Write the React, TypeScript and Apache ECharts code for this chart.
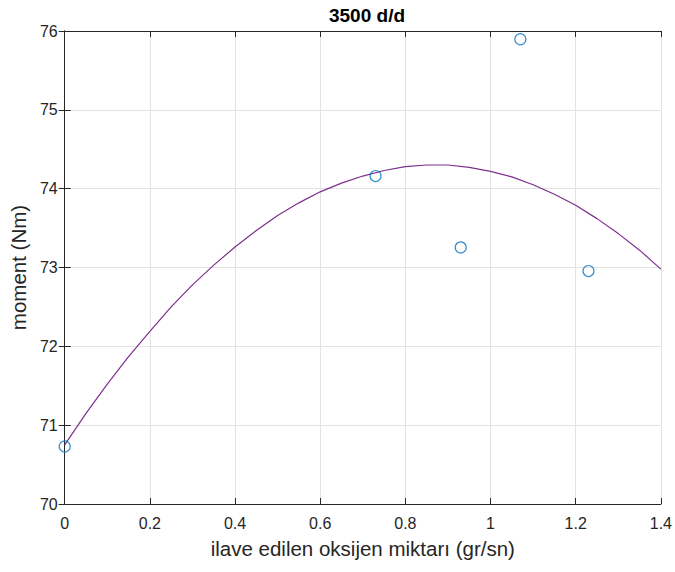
import React, { useEffect, useRef } from "react";
import * as echarts from "echarts";

const measuredX = [0, 0.73, 0.93, 1.07, 1.23];
const measuredY = [70.73, 74.16, 73.255, 75.895, 72.955];

const fitX = [0, 0.05, 0.1, 0.15, 0.2, 0.25, 0.3, 0.35, 0.4, 0.45, 0.5, 0.55, 0.6, 0.65, 0.7, 0.75, 0.8, 0.85, 0.9, 0.95, 1.0, 1.05, 1.1, 1.15, 1.2, 1.25, 1.3, 1.35, 1.4];
const fitY = [70.75, 71.15, 71.52, 71.87, 72.19, 72.5, 72.78, 73.03, 73.26, 73.47, 73.66, 73.82, 73.96, 74.07, 74.16, 74.23, 74.28, 74.3, 74.3, 74.27, 74.22, 74.15, 74.05, 73.93, 73.79, 73.62, 73.43, 73.22, 72.98];

const titleText = "3500 d/d";
const xName = "ilave edilen oksijen miktarı (gr/sn)";
const yName = "moment (Nm)";

const FONT = "'Liberation Sans', Arial, Helvetica, sans-serif";

export default function App() {
  const ref = useRef<HTMLDivElement>(null);
  useEffect(() => {
    document.body.style.margin = "0";
    const chart = echarts.init(ref.current!, null, { renderer: "svg" });
    const axisLine = { show: true, lineStyle: { color: "#262626", width: 1 } };
    const tick = { show: true, inside: true, length: 6, lineStyle: { color: "#262626", width: 1 } };
    const label = { color: "#262626", fontSize: 16, fontFamily: FONT };
    const split = { show: true, lineStyle: { color: "#e3e3e3", width: 1 } };
    chart.setOption({
      animation: false,
      backgroundColor: "#ffffff",
      title: {
        text: titleText,
        left: 362,
        textAlign: "center",
        top: 1,
        textStyle: { fontSize: 19, fontWeight: "bold", color: "#000", fontFamily: FONT },
      },
      grid: { left: 63, top: 31, right: 13, bottom: 68, containLabel: false },
      xAxis: [
        {
          type: "value",
          min: 0,
          max: 1.4,
          interval: 0.2,
          position: "bottom",
          axisLine,
          axisTick: tick,
          axisLabel: { ...label, margin: 11 },
          splitLine: split,
          name: xName,
          nameLocation: "middle",
          nameGap: 34,
          nameTextStyle: { fontSize: 20.5, color: "#262626", fontFamily: FONT },
        },
        {
          type: "value",
          min: 0,
          max: 1.4,
          interval: 0.2,
          position: "top",
          axisLine,
          axisTick: tick,
          axisLabel: { show: false },
          splitLine: { show: false },
        },
      ],
      yAxis: [
        {
          type: "value",
          min: 70,
          max: 76,
          interval: 1,
          position: "left",
          axisLine,
          axisTick: tick,
          axisLabel: { ...label, margin: 7 },
          splitLine: split,
          name: yName,
          nameLocation: "middle",
          nameGap: 32,
          nameTextStyle: { fontSize: 20.5, color: "#262626", fontFamily: FONT },
        },
        {
          type: "value",
          min: 70,
          max: 76,
          interval: 1,
          position: "right",
          axisLine,
          axisTick: tick,
          axisLabel: { show: false },
          splitLine: { show: false },
        },
      ],
      series: [
        {
          type: "line",
          data: fitX.map((x, i) => [x, fitY[i]]),
          smooth: false,
          showSymbol: false,
          lineStyle: { color: "#7E2F8E", width: 1.2 },
          z: 2,
        },
        {
          type: "scatter",
          data: measuredX.map((x, i) => [x, measuredY[i]]),
          symbol: "circle",
          symbolSize: 11,
          itemStyle: { color: "rgba(255,255,255,0)", borderColor: "#0072BD", borderWidth: 1.2 },
          z: 3,
        },
      ],
    });
    return () => chart.dispose();
  }, []);
  return <div ref={ref} style={{ width: 675, height: 572 }} />;
}
